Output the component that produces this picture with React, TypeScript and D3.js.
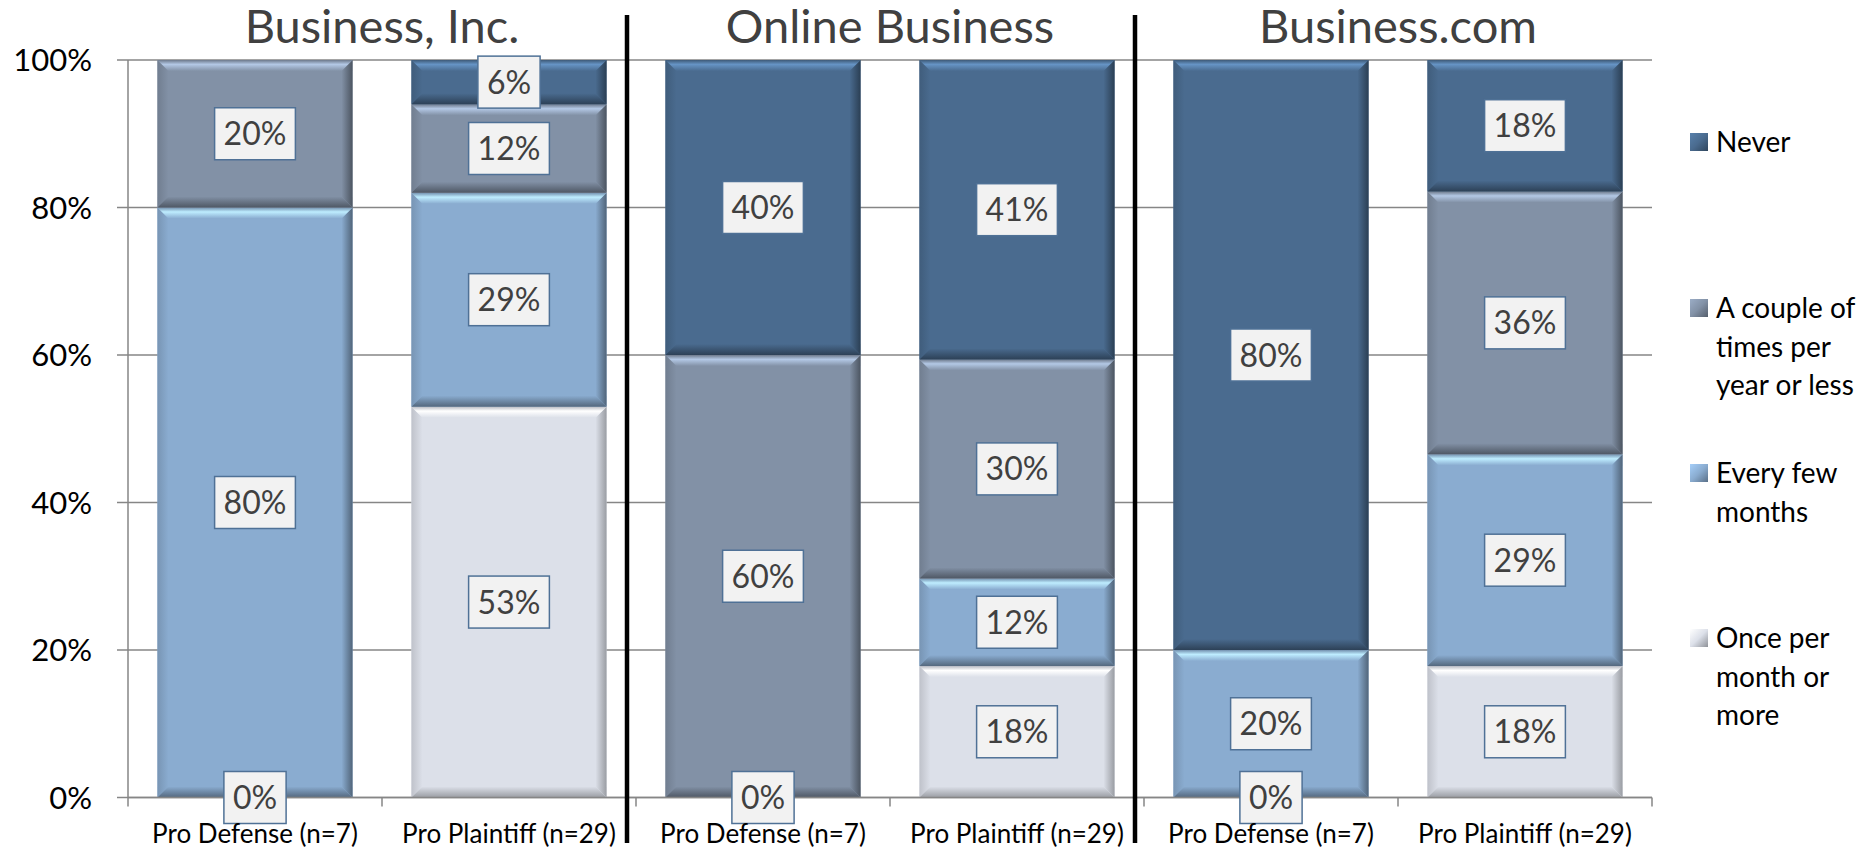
import React from "react";
import * as d3 from "d3";

// ---------- DATA ----------
const groupTitles = ["Business, Inc.", "Online Business", "Business.com"];
const categories = [
  "Pro Defense (n=7)",
  "Pro Plaintiff (n=29)",
  "Pro Defense (n=7)",
  "Pro Plaintiff (n=29)",
  "Pro Defense (n=7)",
  "Pro Plaintiff (n=29)",
];
const seriesKeys = ["once", "everyFew", "couple", "never"];
const seriesNames = [
  "Once per month or more",
  "Every few months",
  "A couple of times per year or less",
  "Never",
];
// values per category (percent labels, 100% stacked => normalised)
const oncePerMonth: (number | null)[] = [0, 53, 0, 18, 0, 18];
const everyFewMonths: (number | null)[] = [80, 29, null, 12, 20, 29];
const coupleTimesPerYear: (number | null)[] = [20, 12, 60, 30, null, 36];
const never: (number | null)[] = [null, 6, 40, 41, 80, 18];
const yTicks = [0, 0.2, 0.4, 0.6, 0.8, 1];
const legendOrder = [3, 2, 1, 0];
const legendLines = [
  ["Once per", "month or", "more"],
  ["Every few", "months"],
  ["A couple of", "times per", "year or less"],
  ["Never"],
];
const seriesColors = ["#dce0e9", "#8aacd0", "#8291a6", "#4a6b8f"];

// ---------- LAYOUT ----------
const W = 1868;
const H = 852;
const left = 128;
const right = 1652;
const top = 60;
const bottom = 797.5;
const FONT = "Lato, 'Open Sans', sans-serif";
const legendY = [142, 308, 473, 638];
const legendLineH = 38.5;

const seriesValues = [oncePerMonth, everyFewMonths, coupleTimesPerYear, never];

let measureCtx: CanvasRenderingContext2D | null = null;
function textWidth(t: string, font: string) {
  if (!measureCtx) measureCtx = document.createElement("canvas").getContext("2d");
  if (!measureCtx) return t.length * 16;
  measureCtx.font = font;
  return measureCtx.measureText(t).width;
}

export default function App() {
  const rows = categories.map((c, i) => {
    const r: any = { idx: String(i) };
    seriesKeys.forEach((k, s) => (r[k] = seriesValues[s][i] ?? 0));
    return r;
  });
  const stacked = d3.stack<any>().keys(seriesKeys).offset(d3.stackOffsetExpand)(rows);

  const x = d3
    .scaleBand<string>()
    .domain(categories.map((_, i) => String(i)))
    .range([left, right])
    .paddingInner(0.232)
    .paddingOuter(0.116);
  const y = d3.scaleLinear().domain([0, 1]).range([bottom, top]);
  const step = x.step();
  const bw = x.bandwidth();
  const boundaries = d3.range(categories.length + 1).map((i) => left + i * step);

  const c = (col: string) => d3.color(col)!;

  const segs: any[] = [];
  const labels: any[] = [];
  stacked.forEach((layer, s) => {
    layer.forEach((d, i) => {
      const v = seriesValues[s][i];
      if (v === null) return;
      const x0 = x(String(i))!;
      const y0 = y(d[1]);
      const y1 = y(d[0]);
      if (y1 - y0 > 0.5) segs.push({ s, x0, y0, w: bw, h: y1 - y0 });
      labels.push({ s, cx: x0 + bw / 2, cy: (y0 + y1) / 2, text: `${v}%` });
    });
  });

  const labelFS = 32;
  const labelFont = `${labelFS}px ${FONT}`;

  return (
    <div style={{ position: "absolute", left: 0, top: 0 }}>
      <svg width={W} height={H} style={{ display: "block", background: "#fff" }}>
        <defs>
          {seriesColors.map((col, s) => (
            <React.Fragment key={s}>
              <linearGradient id={`top${s}`} x1="0" y1="0" x2="0" y2="1">
                <stop offset="0" stopColor={c(col).darker(0.5).formatHex()} />
                <stop offset="0.4" stopColor={c(col).brighter(s === 0 ? 1.6 : 0.9).formatHex()} />
                <stop offset="1" stopColor={col} />
              </linearGradient>
              <linearGradient id={`bot${s}`} x1="0" y1="0" x2="0" y2="1">
                <stop offset="0" stopColor={col} />
                <stop offset="1" stopColor={c(col).darker(s === 0 ? 1.0 : 1.4).formatHex()} />
              </linearGradient>
              <linearGradient id={`rgt${s}`} x1="0" y1="0" x2="1" y2="0">
                <stop offset="0" stopColor={col} />
                <stop offset="1" stopColor={c(col).darker(s === 0 ? 1.0 : 1.5).formatHex()} />
              </linearGradient>
              <linearGradient id={`lft${s}`} x1="0" y1="0" x2="1" y2="0">
                <stop offset="0" stopColor={c(col).darker(0.4).formatHex()} />
                <stop offset="1" stopColor={col} />
              </linearGradient>
              <linearGradient id={`leg${s}`} x1="0" y1="0" x2="1" y2="1">
                <stop offset="0" stopColor={c(col).brighter(0.5).formatHex()} />
                <stop offset="0.5" stopColor={col} />
                <stop offset="1" stopColor={c(col).darker(1.2).formatHex()} />
              </linearGradient>
            </React.Fragment>
          ))}
        </defs>

        {/* gridlines */}
        {yTicks.map((t) => (
          <line key={t} x1={left - 11} x2={right} y1={y(t)} y2={y(t)} stroke="#868686" strokeWidth={1.5} />
        ))}
        {/* y axis */}
        <line x1={left} x2={left} y1={top} y2={bottom} stroke="#868686" strokeWidth={1.5} />
        {/* x axis ticks */}
        {boundaries.map((b, i) => (
          <line key={i} x1={b} x2={b} y1={bottom} y2={bottom + 9} stroke="#868686" strokeWidth={1.5} />
        ))}

        {/* bars */}
        {segs.map((g, k) => {
          const b = Math.min(11, g.h / 2);
          const { x0, y0, w, h, s } = g;
          const x1 = x0 + w;
          const y1 = y0 + h;
          return (
            <g key={k}>
              <rect x={x0} y={y0} width={w} height={h} fill={seriesColors[s]} />
              <polygon points={`${x0},${y0} ${x0 + b},${y0 + b} ${x0 + b},${y1 - b} ${x0},${y1}`} fill={`url(#lft${s})`} />
              <polygon points={`${x1},${y0} ${x1 - b},${y0 + b} ${x1 - b},${y1 - b} ${x1},${y1}`} fill={`url(#rgt${s})`} />
              <polygon points={`${x0},${y0} ${x1},${y0} ${x1 - b},${y0 + b} ${x0 + b},${y0 + b}`} fill={`url(#top${s})`} />
              <polygon points={`${x0},${y1} ${x1},${y1} ${x1 - b},${y1 - b} ${x0 + b},${y1 - b}`} fill={`url(#bot${s})`} />
            </g>
          );
        })}

        {/* x axis line */}
        <line x1={left} x2={right} y1={bottom} y2={bottom} stroke="#868686" strokeWidth={1.5} />

        {/* data labels */}
        {labels.map((l, k) => {
          const tw = textWidth(l.text, labelFont);
          const bwid = tw + 18;
          const bh = 52;
          return (
            <g key={k}>
              <rect x={l.cx - bwid / 2} y={l.cy - bh / 2} width={bwid} height={bh} fill="#f2f2f2" stroke="#4f7196" strokeWidth={1.5} />
              <text x={l.cx} y={l.cy} dy="0.36em" textAnchor="middle" fontFamily={FONT} fontSize={labelFS} fill="#404040">
                {l.text}
              </text>
            </g>
          );
        })}

        {/* y tick labels */}
        {yTicks.map((t) => (
          <text key={t} x={92} y={y(t)} dy="0.36em" textAnchor="end" fontFamily={FONT} fontSize={31} fill="#000">
            {d3.format(".0%")(t)}
          </text>
        ))}

        {/* x labels */}
        {categories.map((cat, i) => (
          <text key={i} x={x(String(i))! + bw / 2} y={843} textAnchor="middle" fontFamily={FONT} fontSize={26} fill="#000">
            {cat}
          </text>
        ))}

        {/* group separators */}
        {[1, 2].map((g) => (
          <line key={g} x1={boundaries[g * 2] - 9} x2={boundaries[g * 2] - 9} y1={15} y2={843} stroke="#000" strokeWidth={4.5} />
        ))}

        {/* titles */}
        {groupTitles.map((t, g) => (
          <text key={g} x={(boundaries[g * 2] + boundaries[g * 2 + 2]) / 2} y={43} textAnchor="middle" fontFamily={FONT} fontSize={47} fill="#404040">
            {t}
          </text>
        ))}

        {/* legend */}
        {legendOrder.map((s, k) => (
          <g key={s}>
            <rect x={1690} y={legendY[k] - 9} width={18} height={18} fill={`url(#leg${s})`} />
            {legendLines[s].map((ln, j) => (
              <text key={j} x={1716} y={legendY[k] + j * legendLineH} dy="0.36em" fontFamily={FONT} fontSize={28} fill="#000">
                {ln}
              </text>
            ))}
          </g>
        ))}
      </svg>
    </div>
  );
}
